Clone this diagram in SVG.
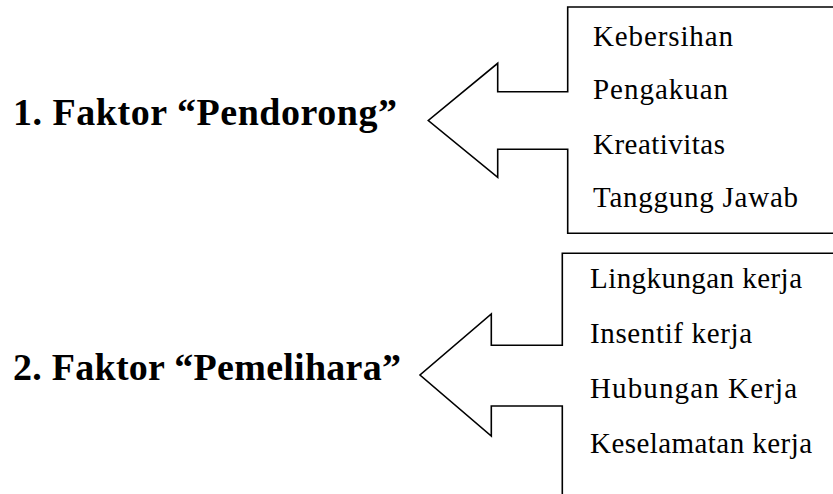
<svg xmlns="http://www.w3.org/2000/svg" width="833" height="494" viewBox="0 0 833 494">
<style>
.shape{fill:none;stroke:#000;stroke-width:1.6;stroke-linejoin:miter}
.head{font-family:"Liberation Serif",serif;font-weight:bold;font-size:38px;fill:#000}
.item{font-family:"Liberation Serif",serif;font-size:29px;fill:#000}
</style>
<rect width="833" height="494" fill="#fff"/>
<g id="connectors">
<path class="shape" d="M840,7 H567.7 V91.7 H497.7 V63.3 L428.3,120.5 L497.7,177.3 V149.3 H567.7 V233.3 H840"/>
<path class="shape" d="M840,253.3 H562.3 V345.3 H491.3 V314 L420,375 L491.3,436 V406 H562.3 V500"/>
</g>
<g id="node-pendorong">
<text class="head" x="13" y="125" textLength="384" lengthAdjust="spacing">1. Faktor “Pendorong”</text>
</g>
<g id="node-pendorong-items">
<text class="item" x="593" y="46" textLength="140" lengthAdjust="spacing">Kebersihan</text>
<text class="item" x="593" y="99" textLength="135" lengthAdjust="spacing">Pengakuan</text>
<text class="item" x="593" y="154" textLength="132" lengthAdjust="spacing">Kreativitas</text>
<text class="item" x="593" y="207" textLength="205" lengthAdjust="spacing">Tanggung Jawab</text>
</g>
<g id="node-pemelihara">
<text class="head" x="13" y="380" textLength="388" lengthAdjust="spacing">2. Faktor “Pemelihara”</text>
</g>
<g id="node-pemelihara-items">
<text class="item" x="590" y="288" textLength="212" lengthAdjust="spacing">Lingkungan kerja</text>
<text class="item" x="590" y="343" textLength="162" lengthAdjust="spacing">Insentif kerja</text>
<text class="item" x="590" y="398" textLength="207" lengthAdjust="spacing">Hubungan Kerja</text>
<text class="item" x="590" y="453" textLength="222" lengthAdjust="spacing">Keselamatan kerja</text>
</g>
</svg>
